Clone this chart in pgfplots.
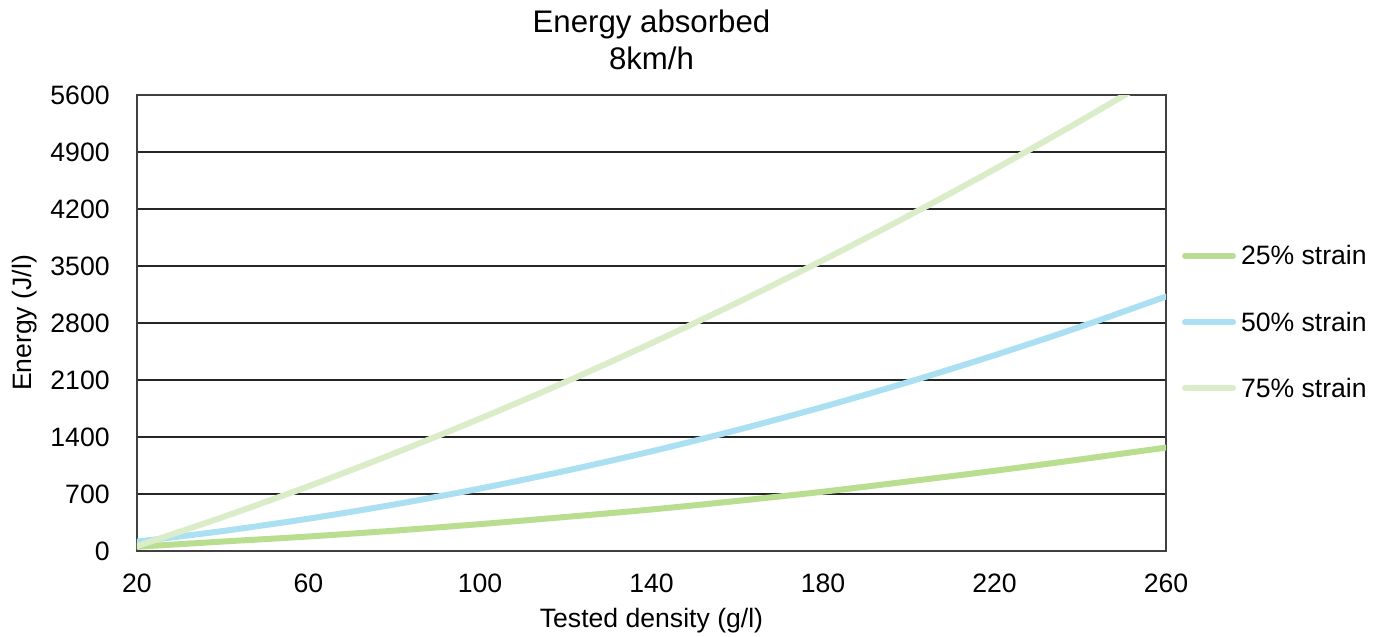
\documentclass[border=0pt]{standalone}
\usepackage{pgfplots}
\pgfplotsset{compat=1.18}
\usepackage{fontspec}
\setmainfont{Liberation Sans}
\definecolor{cA}{RGB}{185,222,143}
\definecolor{cB}{RGB}{170,224,242}
\definecolor{cC}{RGB}{218,237,200}
\begin{document}
\begin{tikzpicture}
\useasboundingbox (-68.5pt,-43pt) rectangle (622.5pt,275.5pt);
\begin{axis}[
  scale only axis, width=514.5pt, height=228pt,
  xmin=20, xmax=260, ymin=0, ymax=5600,
  xtick={20,60,...,260}, ytick={0,700,...,5600},
  scaled ticks=false,
  /pgf/number format/1000 sep={},
  /pgf/number format/assume math mode=true,
  major tick length=0pt,
  ymajorgrids, grid style={black!85, line width=0.6pt},
  axis line style={black!75, line width=0.6pt},
  tick label style={font=\fontsize{13.3}{16}\selectfont},
  xticklabel style={anchor=center, yshift=-16pt},
  yticklabel style={anchor=east, inner sep=0pt, xshift=-13.5pt},
  xlabel={Tested density (g/l)}, ylabel={Energy (J/l)},
  every axis x label/.style={at={(axis description cs:0.5,0)}, yshift=-35pt, anchor=center, font=\fontsize{13.3}{16}\selectfont},
  every axis y label/.style={at={(axis description cs:0,0.5)}, xshift=-56pt, rotate=90, anchor=center, font=\fontsize{13.3}{16}\selectfont},
  title={Energy absorbed\\8km/h},
  title style={at={(axis description cs:0.5,1)}, anchor=south, yshift=6.5pt, inner sep=0pt, align=center, font=\fontsize{15.6}{18.5}\selectfont},
  legend style={at={(axis description cs:1,0.5)}, anchor=west, xshift=8pt, draw=none, fill=none, inner sep=0pt, outer sep=0pt, row sep=22pt, font=\fontsize{13.3}{16}\selectfont, nodes={inner sep=0pt}, /tikz/every odd column/.style={column sep=2.5pt}},
  legend cell align=left,
  legend image code/.code={\draw[#1, line width=3pt, line cap=round] (1.5pt,0.4pt) -- (25.5pt,0.4pt);},
]
\addplot[cA, line width=3pt, smooth, line cap=round] coordinates {
(20,52) (40,116) (60,178) (80,250) (100,330) (120,418) (140,510) (160,615) (180,728) (200,855) (220,985) (240,1125) (260,1270)};
\addlegendentry{25\% strain}
\addplot[cB, line width=3pt, smooth, line cap=round] coordinates {
(20,115) (40,245) (60,397) (80,571) (100,767) (120,985) (140,1224) (160,1486) (180,1770) (200,2076) (220,2404) (240,2753) (260,3125)};
\addlegendentry{50\% strain}
\addplot[cC, line width=3pt, smooth, line cap=round] coordinates {
(20,60) (40,416) (60,795) (80,1199) (100,1626) (120,2077) (140,2552) (160,3050) (180,3572) (200,4118) (220,4688) (240,5281) (260,5899)};
\addlegendentry{75\% strain}
\end{axis}
\end{tikzpicture}
\end{document}
